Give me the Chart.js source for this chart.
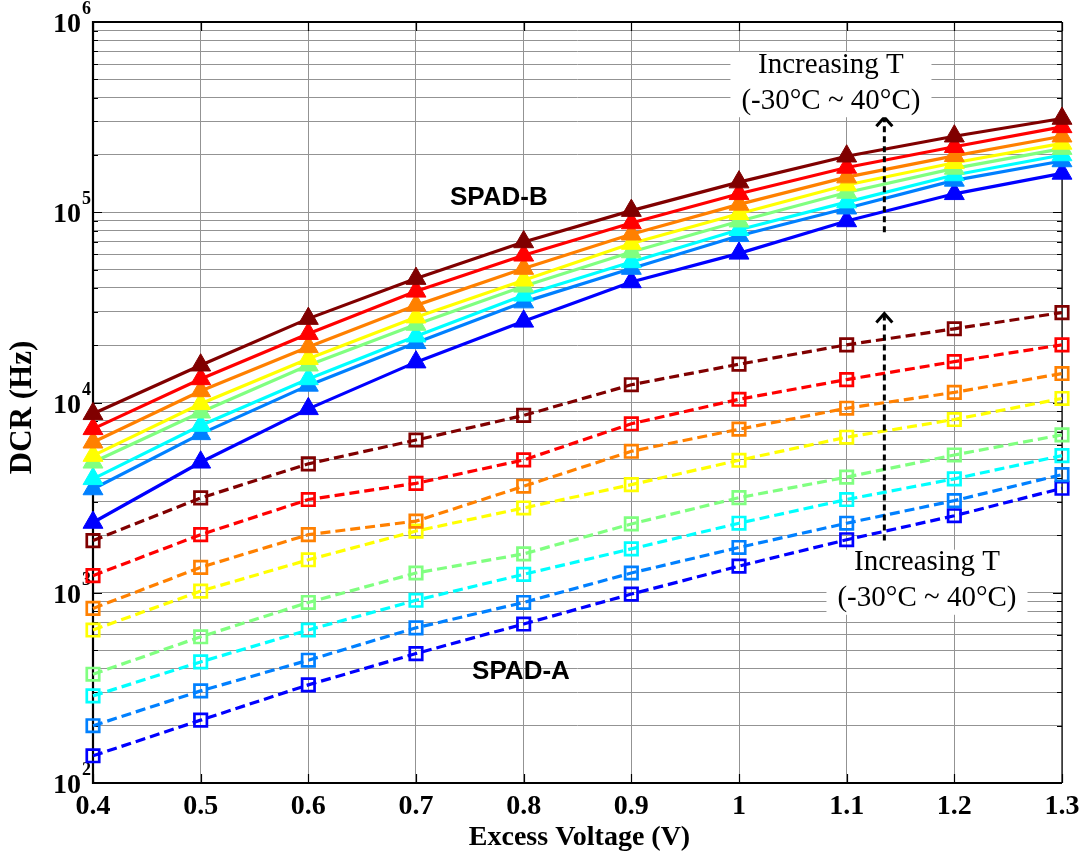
<!DOCTYPE html>
<html>
<head>
<meta charset="utf-8">
<script src="https://cdn.jsdelivr.net/npm/chart.js@4/dist/chart.umd.min.js"></script>
<style>
  html, body { margin: 0; padding: 0; background: #fff; }
  #wrap { width: 1086px; height: 853px; position: relative; }
</style>
</head>
<body>
<div id="wrap"><canvas id="c"></canvas></div>
<script>
// Excess voltage (V)
const voltages = [0.4, 0.5, 0.6, 0.7, 0.8, 0.9, 1.0, 1.1, 1.2, 1.3];
const xTickLabels = ['0.4', '0.5', '0.6', '0.7', '0.8', '0.9', '1', '1.1', '1.2', '1.3'];
const yDecades = [2, 3, 4, 5, 6];
const temperatures = ['-30°C', '-20°C', '-10°C', '0°C', '10°C', '20°C', '30°C', '40°C'];
const jetColors = ['#0000ff', '#0080ff', '#00ffff', '#80ff80', '#ffff00', '#ff8000', '#ff0000', '#800000'];

// SPAD-A dark count rate (Hz), one array per temperature
const spadA_m30 = [139, 214, 328, 479, 685, 984, 1380, 1900, 2540, 3540];
const spadA_m20 = [200, 305, 442, 654, 889, 1270, 1730, 2320, 3050, 4180];
const spadA_m10 = [287, 433, 637, 913, 1250, 1700, 2320, 3090, 3970, 5260];
const spadA_0   = [373, 587, 889, 1270, 1600, 2300, 3160, 4050, 5300, 6760];
const spadA_10  = [637, 1020, 1490, 2110, 2790, 3700, 4970, 6570, 8140, 10500];
const spadA_20  = [827, 1360, 2020, 2380, 3630, 5540, 7240, 9330, 11300, 14200];
const spadA_30  = [1230, 2020, 3090, 3760, 4990, 7730, 10400, 13200, 16400, 20100];
const spadA_40  = [1880, 3150, 4760, 6350, 8550, 12400, 15900, 20100, 24400, 29700];

// SPAD-B dark count rate (Hz), one array per temperature
const spadB_m30 = [2340, 4850, 9260, 16300, 26700, 43000, 60800, 90000, 125000, 160000];
const spadB_m20 = [3510, 6840, 12300, 20600, 33700, 50600, 75200, 105000, 147000, 186000];
const spadB_m10 = [3970, 7570, 13300, 22300, 36600, 54800, 80900, 113000, 157000, 200000];
const spadB_0   = [4850, 8890, 15700, 25700, 40800, 61800, 89700, 127000, 170000, 216000];
const spadB_10  = [5260, 9840, 17000, 28100, 43900, 68500, 98200, 139000, 182000, 230000];
const spadB_20  = [6180, 11500, 19600, 32400, 50600, 76600, 110000, 153000, 198000, 251000];
const spadB_30  = [7270, 13300, 23000, 38400, 59400, 87800, 125000, 172000, 221000, 281000];
const spadB_40  = [8720, 15700, 27600, 44800, 69800, 102000, 144000, 197000, 251000, 311000];

const spadASeries = [spadA_m30, spadA_m20, spadA_m10, spadA_0, spadA_10, spadA_20, spadA_30, spadA_40];
const spadBSeries = [spadB_m30, spadB_m20, spadB_m10, spadB_0, spadB_10, spadB_20, spadB_30, spadB_40];

const toPoints = arr => arr.map((v, i) => ({ x: voltages[i], y: v }));

const datasets = [];
spadBSeries.forEach((arr, i) => {
  datasets.push({
    label: 'SPAD-B ' + temperatures[i],
    data: toPoints(arr),
    borderColor: jetColors[i],
    backgroundColor: jetColors[i],
    borderWidth: 3.2,
    tension: 0,
    pointStyle: 'triangle',
    pointRadius: 11.5,
    pointHoverRadius: 11.5,
    pointBackgroundColor: jetColors[i],
    pointBorderColor: jetColors[i],
    pointBorderWidth: 1,
    clip: false,
    order: 7 - i
  });
});
spadASeries.forEach((arr, i) => {
  datasets.push({
    label: 'SPAD-A ' + temperatures[i],
    data: toPoints(arr),
    borderColor: jetColors[i],
    backgroundColor: 'rgba(0,0,0,0)',
    borderWidth: 3.2,
    borderDash: [10, 5],
    tension: 0,
    pointStyle: 'rect',
    pointRadius: 8.8,
    pointHoverRadius: 8.8,
    pointBackgroundColor: 'rgba(0,0,0,0)',
    pointBorderColor: jetColors[i],
    pointBorderWidth: 2.7,
    clip: false,
    order: 20 - i
  });
});

const SERIF = '"Liberation Serif", "Times New Roman", serif';
const SANS = '"Liberation Sans", Arial, sans-serif';

// Axis frame, inward ticks and tick labels (drawn beneath the data)
const axesPlugin = {
  id: 'axesFrame',
  beforeDatasetsDraw(chart) {
    const { ctx, chartArea: a, scales: { x, y } } = chart;
    ctx.save();
    ctx.strokeStyle = '#000';
    // inward tick marks
    ctx.lineWidth = 1.2;
    ctx.beginPath();
    voltages.forEach(v => {
      const px = Math.round(x.getPixelForValue(v)) + 0.5;
      ctx.moveTo(px, a.bottom); ctx.lineTo(px, a.bottom - 9);
      ctx.moveTo(px, a.top); ctx.lineTo(px, a.top + 9);
    });
    for (let e = yDecades[0]; e <= yDecades[yDecades.length - 1]; e++) {
      for (let m = 1; m <= 9; m++) {
        const v = m * Math.pow(10, e);
        if (v > 1e6) break;
        const len = m === 1 ? 9 : 5;
        const py = Math.round(y.getPixelForValue(v)) + 0.5;
        ctx.moveTo(a.left, py); ctx.lineTo(a.left + len, py);
        ctx.moveTo(a.right, py); ctx.lineTo(a.right - len, py);
      }
    }
    ctx.stroke();
    // box
    ctx.lineWidth = 2.2;
    ctx.beginPath();
    ctx.moveTo(a.right, a.top); ctx.lineTo(a.left, a.top); ctx.lineTo(a.left, a.bottom); ctx.lineTo(a.right, a.bottom);
    ctx.stroke();
    ctx.lineWidth = 1.2;
    ctx.beginPath();
    ctx.moveTo(a.right, a.top); ctx.lineTo(a.right, a.bottom);
    ctx.stroke();

    // tick labels
    ctx.fillStyle = '#000';
    ctx.font = 'bold 28px ' + SERIF;
    ctx.textAlign = 'center';
    ctx.textBaseline = 'alphabetic';
    voltages.forEach((v, i) => {
      ctx.fillText(xTickLabels[i], x.getPixelForValue(v), a.bottom + 31);
    });
    yDecades.forEach(e => {
      const py = y.getPixelForValue(Math.pow(10, e));
      ctx.font = 'bold 28px ' + SERIF;
      ctx.textAlign = 'right';
      ctx.fillText('10', a.left - 12, py + 10);
      ctx.font = 'bold 18px ' + SERIF;
      ctx.textAlign = 'left';
      ctx.fillText(String(e), a.left - 11, py - 8);
    });

    // axis titles
    ctx.font = 'bold 28px ' + SERIF;
    ctx.textAlign = 'center';
    ctx.textBaseline = 'middle';
    ctx.fillText('Excess Voltage (V)', (a.left + a.right) / 2 + 2, a.bottom + 55);
    ctx.save();
    ctx.translate(23, (a.top + a.bottom) / 2 + 5);
    ctx.rotate(-Math.PI / 2);
    ctx.font = 'bold 31px ' + SERIF;
    ctx.fillText('DCR (Hz)', 0, 0);
    ctx.restore();
    ctx.restore();
  },
  afterDatasetsDraw(chart) {
    const { ctx, scales: { x, y } } = chart;
    const px = v => x.getPixelForValue(v);
    const py = v => y.getPixelForValue(v);
    ctx.save();

    // group labels
    ctx.fillStyle = '#000';
    ctx.font = 'bold 26px ' + SANS;
    ctx.textAlign = 'center';
    ctx.textBaseline = 'middle';
    ctx.fillText('SPAD-B', px(0.777), py(118500));
    ctx.fillText('SPAD-A', px(0.7975), py(386));

    // temperature arrows
    const arrow = (xv, fromV, toV) => {
      const ax = px(xv), y0 = py(fromV), y1 = py(toV);
      ctx.strokeStyle = '#000';
      ctx.lineWidth = 3;
      ctx.setLineDash([6, 4]);
      ctx.beginPath();
      ctx.moveTo(ax, y0); ctx.lineTo(ax, y1 + 2);
      ctx.stroke();
      ctx.setLineDash([]);
      ctx.beginPath();
      ctx.moveTo(ax - 8, y1 + 9); ctx.lineTo(ax, y1); ctx.lineTo(ax + 8, y1 + 9);
      ctx.stroke();
    };
    arrow(1.135, 78500, 316000);
    arrow(1.135, 1880, 29400);

    // temperature notes on white boxes
    const note = (xv, v1, v2) => {
      const cx = px(xv), y1 = py(v1), y2 = py(v2);
      ctx.font = '29px ' + SERIF;
      const l1 = 'Increasing T', l2 = '(-30°C ~ 40°C)';
      const w = Math.max(ctx.measureText(l1).width, ctx.measureText(l2).width) + 22;
      ctx.fillStyle = '#fff';
      ctx.fillRect(cx - w / 2, y1 - 12, w, (y2 - y1) + 29);
      ctx.fillStyle = '#000';
      ctx.textAlign = 'center';
      ctx.textBaseline = 'middle';
      ctx.fillText(l1, cx, y1 + 1);
      ctx.fillText(l2, cx, y2 + 1);
    };
    note(1.0854, 601000, 388000);
    note(1.1746, 1456, 941);
    ctx.restore();
  }
};

const yGridValues = [];
for (let e = yDecades[0]; e < yDecades[yDecades.length - 1]; e++) {
  for (let m = 1; m <= 9; m++) yGridValues.push(m * Math.pow(10, e));
}
yGridValues.push(Math.pow(10, yDecades[yDecades.length - 1]));

new Chart(document.getElementById('c'), {
  type: 'line',
  data: { datasets },
  options: {
    responsive: true,
    maintainAspectRatio: false,
    animation: false,
    events: [],
    layout: { padding: { left: 0, top: 22, right: 24, bottom: 0 } },
    plugins: { legend: { display: false }, title: { display: false }, tooltip: { enabled: false } },
    scales: {
      x: {
        type: 'linear',
        min: voltages[0],
        max: voltages[voltages.length - 1],
        afterBuildTicks: s => { s.ticks = voltages.map(v => ({ value: v })); },
        afterFit: s => { s.height = 70; },
        ticks: { display: false },
        border: { display: false },
        grid: { color: '#939393', lineWidth: 1, drawTicks: false }
      },
      y: {
        type: 'logarithmic',
        min: Math.pow(10, yDecades[0]),
        max: Math.pow(10, yDecades[yDecades.length - 1]),
        afterBuildTicks: s => { s.ticks = yGridValues.map(v => ({ value: v })); },
        afterFit: s => { s.width = 93; },
        ticks: { display: false },
        border: { display: false },
        grid: { color: '#939393', lineWidth: 1, drawTicks: false }
      }
    }
  },
  plugins: [axesPlugin]
});
</script>
</body>
</html>
